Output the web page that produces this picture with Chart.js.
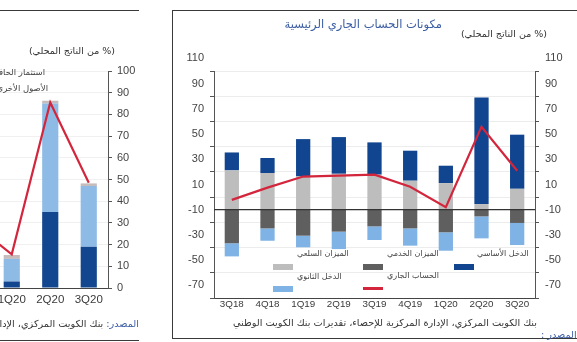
<!DOCTYPE html>
<html>
<head>
<meta charset="utf-8">
<script src="https://cdn.jsdelivr.net/npm/chart.js@4.4.0/dist/chart.umd.min.js"></script>
<style>
  body { margin: 0; width: 577px; height: 342px; overflow: hidden; background: #fff; position: relative; font-family: "DejaVu Sans", sans-serif; }
  .abs { position: absolute; white-space: nowrap; }
  .box { position: absolute; border: 1px solid #3a3a3a; box-sizing: border-box; }
  .ar { direction: rtl; }
  .sw { position: absolute; }
  #leftPanel { position: absolute; left: 0; top: 0; width: 139px; height: 342px; overflow: hidden; }
</style>
</head>
<body>

<div id="leftPanel">
  <div class="box" style="left:-20px; top:10px; width:160px; height:331px;"></div>
  <div class="abs" style="left:-46px; top:0; width:194px; height:342px;"><canvas id="leftChart"></canvas></div>
  <div class="abs ar" style="right:24px; top:45px; font-size:9.5px; color:#333;">(% من الناتج المحلي)</div>
  <div class="abs ar" style="right:94px; top:67px; font-size:8.5px; color:#444;">استثمار الحافظة</div>
  <div class="abs ar" style="right:91px; top:83px; font-size:8.5px; color:#444;">الأصول الأخرى</div>
  <div class="abs ar" style="right:0; top:318px; font-size:9.7px; color:#333;"><span style="color:#3b5da3">المصدر:</span> بنك الكويت المركزي، الإدارة المركزية للإحصاء</div>
</div>

<div class="box" style="left:172px; top:10px; width:420px; height:329px;"></div>
<div class="abs" style="left:172px; top:0; width:405px; height:342px;"><canvas id="mainChart"></canvas></div>

<div class="abs ar" style="right:135px; top:17px; font-size:11.5px; color:#3b5da3;">مكونات الحساب الجاري الرئيسية</div>
<div class="abs ar" style="right:30px; top:28px; font-size:9.5px; color:#333;">(% من الناتج المحلي)</div>

<div class="sw" style="left:273px; top:264px; width:20px; height:6px; background:#bdbdbd;"></div>
<div class="abs ar" style="left:297px; top:249px; font-size:8px; color:#444;">الميزان السلعي</div>
<div class="sw" style="left:273px; top:286px; width:20px; height:6px; background:#7fb2e5;"></div>
<div class="abs ar" style="left:297px; top:272px; font-size:8px; color:#444;">الدخل الثانوي</div>
<div class="sw" style="left:363px; top:264px; width:20px; height:6px; background:#5f5f5f;"></div>
<div class="abs ar" style="left:387px; top:249px; font-size:8px; color:#444;">الميزان الخدمي</div>
<div class="sw" style="left:363px; top:287px; width:20px; height:3px; background:#d3263d;"></div>
<div class="abs ar" style="left:387px; top:271px; font-size:8px; color:#444;">الحساب الجاري</div>
<div class="sw" style="left:454px; top:264px; width:20px; height:6px; background:#11458f;"></div>
<div class="abs ar" style="left:477px; top:249px; font-size:8px; color:#444;">الدخل الأساسي</div>

<div class="abs ar" style="right:40px; top:317px; font-size:9.7px; color:#333;">بنك الكويت المركزي، الإدارة المركزية للإحصاء، تقديرات بنك الكويت الوطني</div>
<div class="abs ar" style="left:541px; top:329px; font-size:9.7px; color:#3b5da3;">المصدر :</div>

<script>
// main chart: % of GDP, zero sits on the dark line
const quarters = ['3Q18', '4Q18', '1Q19', '2Q19', '3Q19', '4Q19', '1Q20', '2Q20', '3Q20'];
const goodsBalance = [31.2, 29.1, 26.4, 28.5, 27.8, 23.0, 21.1, 4.5, 16.6];
const servicesBalance = [-26.6, -14.8, -20.6, -17.4, -13.2, -14.8, -17.9, -5.3, -10.5];
const primaryIncome = [14.2, 11.9, 29.6, 29.1, 25.6, 23.8, 13.8, 84.5, 42.9];
const secondaryIncome = [-10.4, -9.8, -9.2, -13.8, -10.8, -13.7, -14.6, -17.4, -17.5];
const currentAccount = [7.8, 17.5, 26.3, 27.0, 27.8, 18.2, 2.0, 65.8, 30.9];
const mainMin = -70;
const mainMax = 110;
const mainStep = 20;

// left (cropped) chart, only the last quarters show
const leftQuarters = ['4Q19', '1Q20', '2Q20', '3Q20'];
const leftDark = [null, 3, 35, 19];
const leftLight = [null, 10.4, 50, 28];
const leftGrey = [null, 1.8, 1.3, 1.2];
const leftTotal = [29.7, 15.5, 85.5, 48.5];
const leftMin = 0;
const leftMax = 100;
const leftStep = 10;

const axisFont = { family: 'Liberation Sans', size: 11 };

const zeroLine = {
  id: 'zeroLine',
  afterDatasetDraw(chart, args) {
    if (args.index !== 1) return;
    const { ctx, chartArea } = chart;
    const y = chart.scales.y.getPixelForValue(0);
    ctx.save();
    ctx.strokeStyle = '#333';
    ctx.lineWidth = 1.2;
    ctx.beginPath();
    ctx.moveTo(chartArea.left, y);
    ctx.lineTo(chartArea.right, y);
    ctx.stroke();
    ctx.restore();
  }
};

const yAxis = (position) => ({
  position: position,
  stacked: true,
  min: mainMin,
  max: mainMax,
  ticks: {
    stepSize: mainStep,
    labelOffset: -12.6,
    padding: 6,
    color: '#444',
    font: axisFont,
    callback: (v) => v
  },
  grid: {
    color: '#ececec',
    drawOnChartArea: position === 'left',
    tickLength: 4,
    tickColor: '#555'
  },
  border: { color: '#555' },
  afterFit(scale) { scale.width = 42; }
});

new Chart(document.getElementById('mainChart'), {
  type: 'bar',
  data: {
    labels: quarters,
    datasets: [
      { type: 'line', label: 'الحساب الجاري', data: currentAccount, stack: 'ca', borderColor: '#d3263d', borderWidth: 2.2, pointRadius: 0, tension: 0 },
      { label: 'الميزان السلعي', data: goodsBalance, backgroundColor: '#bdbdbd' },
      { label: 'الميزان الخدمي', data: servicesBalance, backgroundColor: '#5f5f5f' },
      { label: 'الدخل الأساسي', data: primaryIncome, backgroundColor: '#11458f' },
      { label: 'الدخل الثانوي', data: secondaryIncome, backgroundColor: '#7fb2e5' }
    ]
  },
  options: {
    responsive: true,
    maintainAspectRatio: false,
    animation: false,
    layout: { padding: { top: 71, left: 0, right: 0, bottom: 0 } },
    datasets: { bar: { barPercentage: 0.4, categoryPercentage: 1 } },
    plugins: { legend: { display: false }, tooltip: { enabled: false } },
    scales: {
      x: {
        stacked: true,
        grid: { display: false, drawTicks: false },
        border: { display: true, color: '#444' },
        ticks: { color: '#3a3a3a', font: { family: 'Liberation Sans', size: 9.8 }, padding: 0, maxRotation: 0, autoSkip: false },
        afterFit(scale) { scale.height = 44; }
      },
      y: yAxis('left'),
      y2: yAxis('right')
    }
  },
  plugins: [zeroLine]
});

new Chart(document.getElementById('leftChart'), {
  type: 'bar',
  data: {
    labels: leftQuarters,
    datasets: [
      { type: 'line', data: leftTotal, stack: 'total', borderColor: '#d3263d', borderWidth: 2.2, pointRadius: 0, tension: 0 },
      { data: leftDark, backgroundColor: '#12468f' },
      { data: leftLight, backgroundColor: '#8ebbe6' },
      { data: leftGrey, backgroundColor: '#c6bcbc' }
    ]
  },
  options: {
    responsive: true,
    maintainAspectRatio: false,
    animation: false,
    layout: { padding: { top: 71, left: 0, right: 0, bottom: 0 } },
    datasets: { bar: { barPercentage: 0.42, categoryPercentage: 1 } },
    plugins: { legend: { display: false }, tooltip: { enabled: false } },
    scales: {
      x: {
        stacked: true,
        grid: { display: false, drawTicks: false },
        border: { display: true, color: '#444' },
        ticks: { color: '#3a3a3a', font: { family: 'Liberation Sans', size: 11.5 }, padding: 5, maxRotation: 0, autoSkip: false },
        afterFit(scale) { scale.height = 54; }
      },
      y: {
        position: 'right',
        stacked: true,
        min: leftMin,
        max: leftMax,
        ticks: { stepSize: leftStep, padding: 5, color: '#444', font: axisFont },
        grid: { color: '#f0f0f0', tickLength: 4, tickColor: '#555' },
        border: { color: '#555' },
        afterFit(scale) { scale.width = 40; }
      }
    }
  }
});
</script>
</body>
</html>
